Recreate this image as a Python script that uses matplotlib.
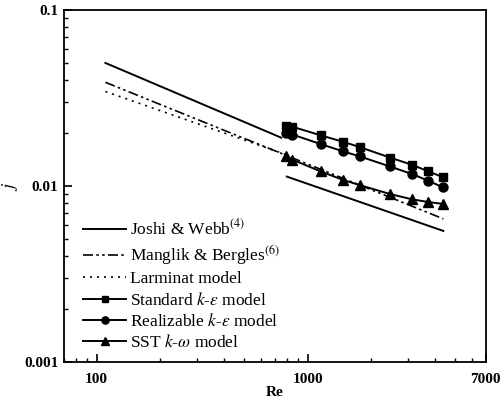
import matplotlib
matplotlib.use('Agg')
import matplotlib.pyplot as plt
from matplotlib.ticker import NullFormatter, LogLocator

plt.rcParams['font.family'] = ['Liberation Serif', 'DejaVu Serif']
plt.rcParams['mathtext.fontset'] = 'stix'

# correlations (straight lines on log-log)
re_jw_lam = [110, 750]
j_jw_lam = [0.050, 0.0188]
re_jw_turb = [797, 4400]
j_jw_turb = [0.0113, 0.00555]
re_mb = [110, 4400]
j_mb = [0.0388, 0.0065]
re_lam = [110, 800]
j_lam = [0.0344, 0.0150]

# CFD results
re_cfd = [793, 847, 1152, 1478, 1773, 2455, 3119, 3736, 4395]
j_std = [0.0220, 0.0217, 0.0194, 0.0178, 0.0166, 0.0145, 0.0132, 0.0121, 0.0112]
j_real = [0.0199, 0.0196, 0.0173, 0.0157, 0.0147, 0.0129, 0.0117, 0.0107, 0.0098]
j_sst = [0.0147, 0.0141, 0.0121, 0.0108, 0.0101, 0.0090, 0.0084, 0.0081, 0.0079]

fig = plt.figure(figsize=(5.04, 3.99), dpi=100)
ax = fig.add_axes([0.127, 0.093, 0.837, 0.882])

lw = 1.4
ax.plot(re_jw_lam, j_jw_lam, '-k', lw=lw, label='Joshi & Webb$^{(4)}$')
ax.plot(re_jw_turb, j_jw_turb, '-k', lw=lw)
ax.plot(re_mb, j_mb, color='k', lw=1.2, dashes=[6, 2, 1.5, 2, 1.5, 2], label='Manglik & Bergles$^{(6)}$')
ax.plot(re_lam, j_lam, color='k', lw=1.2, ls=(0, (1.2, 3)), label='Larminat model')
ax.plot(re_cfd, j_std, '-ks', lw=lw, ms=6, label='Standard $k$-$\\varepsilon$ model')
ax.plot(re_cfd, j_real, '-ko', lw=lw, ms=6.5, label='Realizable $k$-$\\varepsilon$ model')
ax.plot(re_cfd, j_sst, '-k^', lw=lw, ms=7, label='SST $k$-$\\omega$ model')

ax.set_xscale('log')
ax.set_yscale('log')
ax.set_xlim(70, 7000)
ax.set_ylim(0.001, 0.1)

ax.set_xticks([100, 1000, 7000])
ax.set_xticklabels(['100', '1000', '7000'])
ax.xaxis.set_minor_locator(LogLocator(base=10, subs=range(2, 10)))
ax.xaxis.set_minor_formatter(NullFormatter())
ax.set_yticks([0.001, 0.01, 0.1])
ax.set_yticklabels(['0.001', '0.01', '0.1'])
ax.yaxis.set_minor_formatter(NullFormatter())

ax.tick_params(which='both', direction='in', top=False, right=False)
ax.tick_params(which='major', length=6, width=1.2, labelsize=11)
ax.tick_params(axis='y', which='major', pad=4)
ax.tick_params(axis='x', which='major', pad=8)
ax.tick_params(which='minor', length=3, width=1)
for lab in ax.get_xticklabels() + ax.get_yticklabels():
    lab.set_fontweight('bold')
for s in ax.spines.values():
    s.set_linewidth(1.3)

ax.set_xlabel('Re', fontsize=11, fontweight='bold', labelpad=0)
ax.set_ylabel('$j$', fontsize=13)
ax.yaxis.set_label_coords(-0.105, 0.5)

ax.legend(loc='lower left', frameon=False, fontsize=12.5, handlelength=2.5,
          handletextpad=0.2, labelspacing=0.25, borderaxespad=0.2,
          markerscale=0.8, bbox_to_anchor=(0.02, 0.0))

fig.savefig('out.png', dpi=100)
